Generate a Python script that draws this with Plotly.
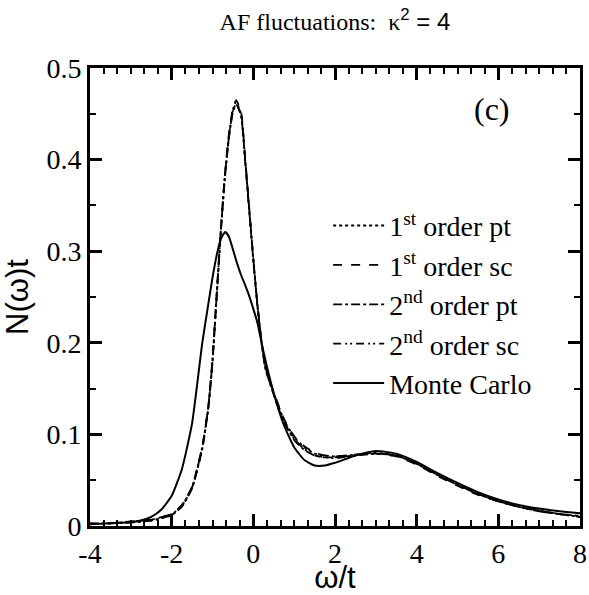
import plotly.graph_objects as go

# ---------------- data ----------------
omega_dmft = [-4.0, -3.5, -3.0, -2.5, -2.0, -1.75, -1.5, -1.25, -1.1, -1.0, -0.9, -0.8,
              -0.7, -0.6, -0.5, -0.42, -0.3, -0.2, -0.1, 0.0, 0.1, 0.2, 0.3, 0.5, 0.75,
              1.0, 1.25, 1.5, 1.75, 2.0, 2.5, 3.0, 3.5, 4.0, 4.5, 5.0, 5.5, 6.0, 6.5,
              7.0, 7.5, 8.0]
first_pt = [0.002, 0.003, 0.004, 0.006, 0.012, 0.022, 0.042, 0.085, 0.13, 0.18, 0.25, 0.32,
            0.38, 0.425, 0.455, 0.463, 0.45, 0.40, 0.345, 0.29, 0.24, 0.20, 0.172, 0.145, 0.116,
            0.097, 0.086, 0.079, 0.077, 0.076, 0.078, 0.080, 0.077, 0.068, 0.056, 0.045, 0.035,
            0.027, 0.021, 0.017, 0.013, 0.010]
first_sc = [0.002, 0.003, 0.005, 0.007, 0.013, 0.023, 0.043, 0.087, 0.132, 0.182, 0.252, 0.322,
            0.382, 0.427, 0.456, 0.465, 0.452, 0.402, 0.347, 0.292, 0.242, 0.202, 0.173, 0.146, 0.117,
            0.098, 0.087, 0.080, 0.077, 0.076, 0.078, 0.079, 0.076, 0.067, 0.055, 0.044, 0.034,
            0.027, 0.021, 0.016, 0.013, 0.010]
second_pt = [0.002, 0.003, 0.004, 0.006, 0.012, 0.021, 0.041, 0.084, 0.129, 0.179, 0.248, 0.318,
             0.378, 0.423, 0.452, 0.460, 0.448, 0.398, 0.344, 0.290, 0.241, 0.201, 0.171, 0.143, 0.113,
             0.094, 0.083, 0.077, 0.075, 0.075, 0.077, 0.079, 0.077, 0.068, 0.056, 0.045, 0.035,
             0.027, 0.021, 0.017, 0.013, 0.011]
second_sc = [0.003, 0.003, 0.005, 0.007, 0.013, 0.022, 0.042, 0.086, 0.131, 0.181, 0.25, 0.32,
             0.38, 0.424, 0.453, 0.461, 0.449, 0.399, 0.345, 0.291, 0.242, 0.201, 0.172, 0.144, 0.114,
             0.095, 0.084, 0.077, 0.075, 0.074, 0.077, 0.079, 0.077, 0.068, 0.056, 0.045, 0.035,
             0.027, 0.021, 0.016, 0.013, 0.010]

omega_mc = [-4.0, -3.5, -3.0, -2.75, -2.5, -2.25, -2.0, -1.75, -1.5, -1.25, -1.1, -1.0, -0.9,
            -0.8, -0.69, -0.6, -0.5, -0.4, -0.3, -0.2, -0.1, 0.0, 0.1, 0.25, 0.5, 0.75, 1.0,
            1.25, 1.5, 1.75, 2.0, 2.5, 3.0, 3.5, 4.0, 4.5, 5.0, 5.5, 6.0, 6.5, 7.0, 7.5, 8.0]
monte_carlo = [0.002, 0.003, 0.004, 0.006, 0.010, 0.018, 0.033, 0.062, 0.112, 0.200, 0.243, 0.271, 0.295,
               0.313, 0.321, 0.316, 0.302, 0.287, 0.274, 0.263, 0.251, 0.237, 0.222, 0.19, 0.145, 0.11, 0.086,
               0.072, 0.066, 0.066, 0.069, 0.077, 0.082, 0.079, 0.070, 0.058, 0.047, 0.037, 0.029, 0.023, 0.019,
               0.016, 0.014]

series_names = ["1<sup>st</sup> order pt", "1<sup>st</sup> order sc",
                "2<sup>nd</sup> order pt", "2<sup>nd</sup> order sc", "Monte Carlo"]
series_dash = ["dot", "dash", "dashdot", "8px,4px,2px,3px,2px,4px", "solid"]

x_range = [-4, 8]
y_range = [0, 0.5]
x_tickvals = [-4, -2, 0, 2, 4, 6, 8]
x_ticktext = ["-4", "-2", "0", "2", "4", "6", "8"]
y_tickvals = [0, 0.1, 0.2, 0.3, 0.4, 0.5]
y_ticktext = ["0", "0.1", "0.2", "0.3", "0.4", "0.5"]

title_text = ("AF fluctuations:\u00a0\u00a0\u03ba<span style=\"font-family:'Liberation Sans'\">"
              "<sup>2</sup> = 4</span>")
panel_label = "(c)"

# ---------------- figure ----------------
SERIF = "Liberation Serif"
SANS = "Liberation Sans"

fig = go.Figure()
ys = [first_pt, first_sc, second_pt, second_sc]
for name, dash, y in zip(series_names[:4], series_dash[:4], ys):
    fig.add_trace(go.Scatter(x=omega_dmft, y=y, mode="lines", name=name,
                             line=dict(color="black", width=1.8, dash=dash, shape="spline",
                                       smoothing=0.5)))
fig.add_trace(go.Scatter(x=omega_mc, y=monte_carlo, mode="lines", name=series_names[4],
                         line=dict(color="black", width=2, dash=series_dash[4], shape="spline",
                                   smoothing=0.5)))

fig.update_xaxes(range=x_range, tickvals=x_tickvals, ticktext=x_ticktext,
                 ticks="inside", ticklen=12, tickwidth=3, tickcolor="black",
                 minor=dict(dtick=2 / 6, tick0=-4, ticks="inside", ticklen=6, tickwidth=2,
                            tickcolor="black"),
                 showline=True, linewidth=3, linecolor="black", mirror="allticks",
                 showgrid=False, zeroline=False,
                 tickfont=dict(family=SERIF, size=28, color="black"),
                 title=dict(text="\u03c9/t", font=dict(family=SANS, size=31, color="black")))
fig.update_yaxes(range=y_range, tickvals=y_tickvals, ticktext=y_ticktext,
                 ticks="inside", ticklen=12, tickwidth=3, tickcolor="black",
                 minor=dict(dtick=0.05, tick0=0, ticks="inside", ticklen=6, tickwidth=2,
                            tickcolor="black"),
                 showline=True, linewidth=3, linecolor="black", mirror="allticks",
                 showgrid=False, zeroline=False,
                 tickfont=dict(family=SERIF, size=28, color="black"),
                 title=dict(text="N(\u03c9)t", font=dict(family=SANS, size=31, color="black")))

fig.update_layout(
    template="none",
    width=589, height=595,
    margin=dict(l=90, r=9, t=68, b=69),
    title=dict(text=title_text, x=0.5, xref="paper", y=1 - 22 / 595, yref="container",
               xanchor="center", yanchor="middle",
               font=dict(family=SERIF, size=24, color="black")),
    legend=dict(x=0.486, y=0.71, xanchor="left", yanchor="top", bgcolor="rgba(0,0,0,0)",
                font=dict(family=SERIF, size=28, color="black"), itemwidth=51,
                tracegroupgap=0),
    showlegend=True,
)

fig.add_annotation(x=5.85, y=0.455, xref="x", yref="y", text=panel_label, showarrow=False,
                   font=dict(family=SERIF, size=32, color="black"))

fig.write_html("out.html")
